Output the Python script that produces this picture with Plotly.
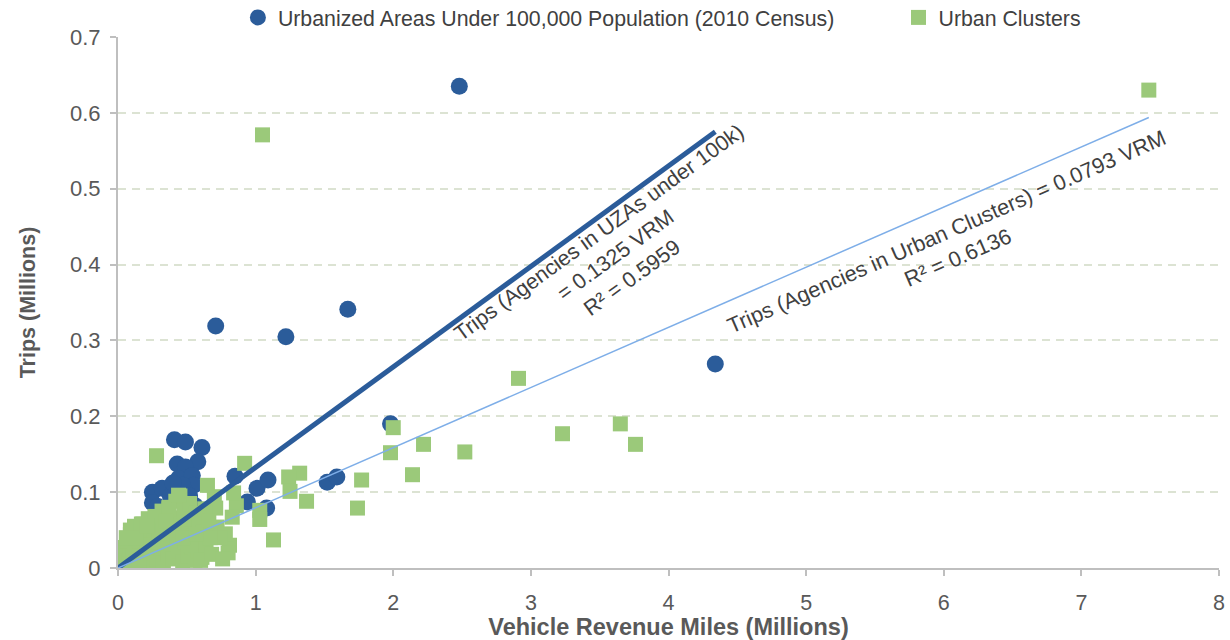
import plotly.graph_objects as go

# ---- Data (millions) ----
uza_vrm = [2.48, 0.71, 1.22, 1.67, 4.34, 1.98, 0.41, 0.49, 0.61, 0.58, 0.43, 0.49, 0.44, 0.54,
           0.55, 0.47, 0.25, 0.32, 0.25, 0.29, 0.56, 0.85, 1.01, 1.09, 0.94, 1.08, 1.52, 1.59,
           0.38, 0.36, 0.50, 0.02, 0.10, 0.20, 0.30, 0.15, 0.52, 0.40]
uza_trips = [0.635, 0.319, 0.305, 0.341, 0.269, 0.190, 0.169, 0.166, 0.159, 0.140, 0.137, 0.133, 0.118, 0.122,
             0.109, 0.109, 0.100, 0.105, 0.086, 0.081, 0.082, 0.121, 0.105, 0.116, 0.087, 0.079, 0.113, 0.120,
             0.095, 0.075, 0.070, 0.003, 0.010, 0.030, 0.050, 0.020, 0.095, 0.112]

uc_vrm = [7.49, 1.05, 2.91, 2.00, 2.22, 3.23, 3.65, 3.76, 2.52, 1.98, 2.14, 1.77, 1.74, 0.28, 0.92,
          1.32, 1.24, 1.25, 1.37, 1.13, 1.03, 1.03, 0.81, 0.86, 0.84, 0.70, 0.65, 0.71, 0.83, 0.72,
          0.78, 0.74, 0.80,
          0.00, 0.01, 0.02, 0.03, 0.02, 0.04, 0.05, 0.03, 0.06, 0.07, 0.05, 0.08, 0.09, 0.07, 0.10,
          0.11, 0.09, 0.12, 0.13, 0.14, 0.12, 0.15, 0.16, 0.17, 0.18, 0.19, 0.20, 0.21, 0.22, 0.23,
          0.24, 0.25, 0.26, 0.27, 0.28, 0.29, 0.30, 0.31, 0.32, 0.33, 0.34, 0.35, 0.36, 0.37, 0.38,
          0.39, 0.40, 0.41, 0.42, 0.43, 0.44, 0.45, 0.46, 0.47, 0.48, 0.49, 0.50, 0.51, 0.52, 0.53,
          0.54, 0.55, 0.56, 0.57, 0.58, 0.59, 0.60, 0.61, 0.62, 0.63, 0.64, 0.66, 0.67, 0.09, 0.17,
          0.27, 0.37, 0.44, 0.60, 0.68, 0.76,
          0.06, 0.13, 0.21, 0.33, 0.41, 0.53, 0.35, 0.24, 0.47, 0.57, 0.15, 0.30]
uc_trips = [0.630, 0.571, 0.250, 0.185, 0.163, 0.177, 0.190, 0.163, 0.153, 0.152, 0.123, 0.116, 0.079, 0.148, 0.138,
            0.125, 0.120, 0.101, 0.088, 0.037, 0.076, 0.064, 0.030, 0.082, 0.099, 0.094, 0.109, 0.079, 0.067, 0.054,
            0.045, 0.040, 0.020,
            0.002, 0.004, 0.003, 0.008, 0.012, 0.005, 0.012, 0.020, 0.006, 0.018, 0.027, 0.009, 0.025, 0.035, 0.004,
            0.015, 0.044, 0.030, 0.008, 0.046, 0.055, 0.022, 0.035, 0.006, 0.058, 0.016, 0.042, 0.028, 0.065, 0.009,
            0.050, 0.020, 0.035, 0.068, 0.012, 0.056, 0.044, 0.026, 0.075, 0.006, 0.062, 0.038, 0.018, 0.080, 0.050,
            0.030, 0.012, 0.066, 0.088, 0.042, 0.022, 0.095, 0.058, 0.008, 0.075, 0.034, 0.050, 0.016, 0.085, 0.064,
            0.028, 0.042, 0.010, 0.072, 0.022, 0.054, 0.036, 0.014, 0.048, 0.078, 0.025, 0.062, 0.040, 0.050, 0.058,
            0.067, 0.078, 0.096, 0.010, 0.018, 0.012,
            0.040, 0.040, 0.055, 0.050, 0.050, 0.030, 0.062, 0.030, 0.040, 0.045, 0.010, 0.034]

uza_slope = 0.1325
uc_slope = 0.0793
x_ticks = [0, 1, 2, 3, 4, 5, 6, 7, 8]
y_ticks = [0, 0.1, 0.2, 0.3, 0.4, 0.5, 0.6, 0.7]

BLUE = "#2B5C9A"
GREEN = "#9BC97A"
LIGHTBLUE = "#7EAEE8"
FONT = "Arial, 'Liberation Sans', sans-serif"
PAD = "\u00a0" * 10

fig = go.Figure()
fig.add_trace(go.Scatter(x=uza_vrm, y=uza_trips, mode="markers",
                         name="Urbanized Areas Under 100,000 Population (2010 Census)" + PAD,
                         marker=dict(symbol="circle", size=17, color=BLUE, line=dict(width=0))))
fig.add_trace(go.Scatter(x=uc_vrm, y=uc_trips, mode="markers", name="Urban Clusters",
                         marker=dict(symbol="square", size=15, color=GREEN, line=dict(width=0))))

uza_tx = [0, max(uza_vrm)]
uc_tx = [0, max(uc_vrm)]
fig.add_trace(go.Scatter(x=uza_tx, y=[uza_slope * v for v in uza_tx], mode="lines",
                         line=dict(color=BLUE, width=5), showlegend=False, hoverinfo="skip"))
fig.add_trace(go.Scatter(x=uc_tx, y=[uc_slope * v for v in uc_tx], mode="lines",
                         line=dict(color=LIGHTBLUE, width=1.5), showlegend=False, hoverinfo="skip"))

fig.add_annotation(x=3.62, y=0.412, xref="x", yref="y", showarrow=False, textangle=-36,
                   text="Trips (Agencies in UZAs under 100k)<br>= 0.1325 VRM<br>R² = 0.5959",
                   font=dict(family=FONT, size=21.5, color="#404040"), align="center")
fig.add_annotation(x=6.06, y=0.427, xref="x", yref="y", showarrow=False, textangle=-23.6,
                   text="Trips (Agencies in Urban Clusters) = 0.0793 VRM<br>R² = 0.6136",
                   font=dict(family=FONT, size=21.7, color="#404040"), align="center")

fig.update_layout(
    width=1230, height=640,
    margin=dict(l=118, r=11, t=37, b=72, autoexpand=False),
    plot_bgcolor="white", paper_bgcolor="white",
    font=dict(family=FONT, size=21, color="#595959"),
    showlegend=True,
    legend=dict(orientation="h", x=0.494, xanchor="center", y=0.998, yanchor="bottom",
                font=dict(family=FONT, size=21.3, color="#404040"),
                bgcolor="rgba(0,0,0,0)", itemwidth=30, tracegroupgap=0),
    xaxis=dict(range=[0, 8], tickvals=x_ticks, showgrid=False, zeroline=False,
               showline=True, linecolor="#BFBFBF", linewidth=2,
               ticks="outside", ticklen=6, tickcolor="#BFBFBF", tickwidth=2,
               tickfont=dict(size=21.5, color="#595959"), ticklabelstandoff=8,
               title=dict(text="<b>Vehicle Revenue Miles (Millions)</b>", standoff=3,
                          font=dict(size=23.5, color="#595959"))),
    yaxis=dict(range=[0, 0.7], tickvals=y_ticks, showgrid=True, gridcolor="#DCE3D3",
               griddash="8px,6px", gridwidth=1.5, zeroline=False,
               showline=True, linecolor="#BFBFBF", linewidth=2,
               ticks="outside", ticklen=6, tickcolor="#BFBFBF", tickwidth=2,
               tickfont=dict(size=22, color="#595959"), ticklabelstandoff=5,
               title=dict(text="<b>Trips (Millions)</b>", standoff=28,
                          font=dict(size=21.5, color="#595959"))),
)

fig.write_html("out.html", config={"displayModeBar": False},
               post_script="document.body.style.margin='0';document.body.style.padding='0';")
